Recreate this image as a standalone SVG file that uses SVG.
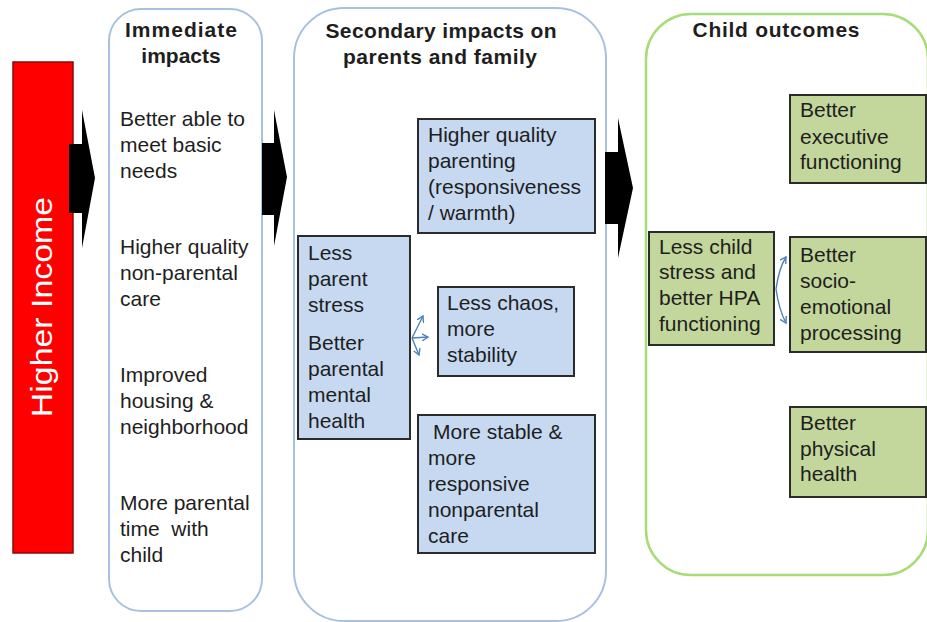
<svg xmlns="http://www.w3.org/2000/svg" width="927" height="622" viewBox="0 0 927 622">
<defs>
<style>
.t{font-family:"Liberation Sans",Arial,sans-serif;font-size:21px;fill:#1e1e1e}
.h{font-family:"Liberation Sans",Arial,sans-serif;font-size:21px;font-weight:bold;fill:#1e1e1e}
.cb{fill:#fff;stroke:#a9c1e1;stroke-width:2}
.cg{fill:#fff;stroke:#a8dc78;stroke-width:2.5}
.bb{fill:#c6d9f1;stroke:#2b2b2b;stroke-width:2}
.gb{fill:#c3d69b;stroke:#2b2b2b;stroke-width:2}
.ar{fill:#000}
.sm{fill:none;stroke:#4f81bd;stroke-width:1.4;marker-end:url(#m)}
</style>
<marker id="m" markerWidth="8" markerHeight="8" refX="6" refY="4" orient="auto" markerUnits="userSpaceOnUse">
<path d="M0,0.5 L6,4 L0,7.5" fill="none" stroke="#4f81bd" stroke-width="1.4"/>
</marker>
</defs>
<rect width="927" height="622" fill="#fff"/>

<g id="immediate">
<rect class="cb" x="109" y="9" width="153" height="602" rx="32"/>
<text class="h" x="181" y="37" text-anchor="middle" textLength="112">Immediate</text>
<text class="h" x="181" y="63" text-anchor="middle">impacts</text>
<text class="t" x="120" y="126">Better able to</text>
<text class="t" x="120" y="152">meet basic</text>
<text class="t" x="120" y="178">needs</text>
<text class="t" x="120" y="254">Higher quality</text>
<text class="t" x="120" y="280">non-parental</text>
<text class="t" x="120" y="306">care</text>
<text class="t" x="120" y="382">Improved</text>
<text class="t" x="120" y="408">housing &amp;</text>
<text class="t" x="120" y="434">neighborhood</text>
<text class="t" x="120" y="510">More parental</text>
<text class="t" x="120" y="536" xml:space="preserve">time  with</text>
<text class="t" x="120" y="562">child</text>
</g>

<g id="secondary">
<rect class="cb" x="294" y="8" width="312" height="613" rx="50"/>
<text class="h" x="441" y="38" text-anchor="middle" textLength="231">Secondary impacts on</text>
<text class="h" x="440" y="64" text-anchor="middle" textLength="194">parents and family</text>
</g>

<g id="child-outcomes">
<rect class="cg" x="646" y="14" width="282" height="561" rx="45"/>
<text class="h" x="776" y="37" text-anchor="middle" textLength="167">Child outcomes</text>
</g>

<g id="higher-income">
<rect x="13" y="62" width="60" height="491" fill="#fe0000" stroke="#8a0a0a" stroke-width="1.5"/>
<text transform="translate(52,307) rotate(-90) scale(1.13,1)" text-anchor="middle" font-family="Liberation Sans,Arial,sans-serif" font-size="30" fill="#fff">Higher Income</text>
</g>

<g id="parenting">
<rect class="bb" x="418" y="119" width="177" height="114"/>
<text class="t" x="428" y="142">Higher quality</text>
<text class="t" x="428" y="168">parenting</text>
<text class="t" x="428" y="194">(responsiveness</text>
<text class="t" x="428" y="220">/ warmth)</text>
</g>

<g id="parent-stress">
<rect class="bb" x="298" y="236" width="112" height="203"/>
<text class="t" x="308" y="260">Less</text>
<text class="t" x="308" y="286">parent</text>
<text class="t" x="308" y="312">stress</text>
<text class="t" x="308" y="350">Better</text>
<text class="t" x="308" y="376">parental</text>
<text class="t" x="308" y="402">mental</text>
<text class="t" x="308" y="428">health</text>
</g>

<g id="chaos">
<rect class="bb" x="438" y="287" width="136" height="89"/>
<text class="t" x="447" y="310">Less chaos,</text>
<text class="t" x="447" y="336">more</text>
<text class="t" x="447" y="362">stability</text>
</g>

<g id="nonparental-care">
<rect class="bb" x="418" y="415" width="177" height="138"/>
<text class="t" x="433" y="439">More stable &amp;</text>
<text class="t" x="428" y="465">more</text>
<text class="t" x="428" y="491">responsive</text>
<text class="t" x="428" y="517">nonparental</text>
<text class="t" x="428" y="543">care</text>
</g>

<g id="hpa">
<rect class="gb" x="649" y="232" width="125" height="113"/>
<text class="t" x="659" y="254">Less child</text>
<text class="t" x="659" y="279">stress and</text>
<text class="t" x="659" y="305">better HPA</text>
<text class="t" x="659" y="331">functioning</text>
</g>

<g id="executive">
<rect class="gb" x="790" y="95" width="136" height="88"/>
<text class="t" x="800" y="117">Better</text>
<text class="t" x="800" y="144">executive</text>
<text class="t" x="800" y="169">functioning</text>
</g>

<g id="socio-emotional">
<rect class="gb" x="790" y="237" width="136" height="115"/>
<text class="t" x="800" y="262">Better</text>
<text class="t" x="800" y="288">socio-</text>
<text class="t" x="800" y="314">emotional</text>
<text class="t" x="800" y="340">processing</text>
</g>

<g id="physical">
<rect class="gb" x="790" y="407" width="136" height="90"/>
<text class="t" x="800" y="430">Better</text>
<text class="t" x="800" y="456">physical</text>
<text class="t" x="800" y="481">health</text>
</g>

<g id="connectors">
<polygon class="ar" points="69,144 82,144 82,110 95,178 82,248 82,213 69,213"/>
<polygon class="ar" points="262,143 274,143 274,110 287,177 274,246 274,215 262,215"/>
<polygon class="ar" points="605,152 618,152 618,118 633,188 618,258 618,224 605,224"/>
<path class="sm" d="M412,338 L423,316"/>
<path class="sm" d="M412,338 L428,337"/>
<path class="sm" d="M412,338 L419,355"/>
<path class="sm" d="M776,289 Q779,268 786,257"/>
<path class="sm" d="M776,289 Q779,310 786,323"/>
</g>
</svg>
